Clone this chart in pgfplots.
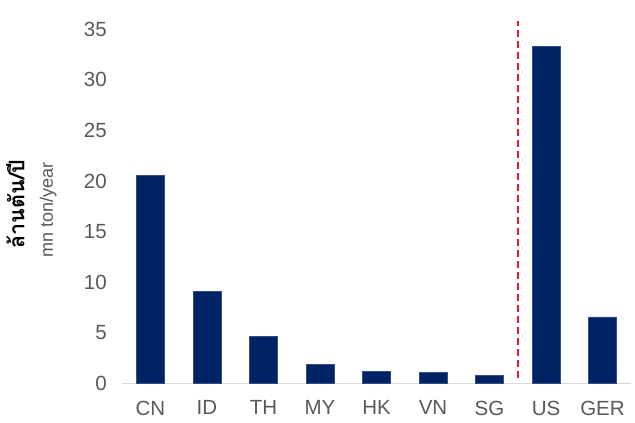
\documentclass[border=0pt]{standalone}
\usepackage{pgfplots}
\pgfplotsset{compat=1.18}
\usepackage{fontspec}
\setmainfont{Liberation Sans}
\newfontfamily\thaifont[Script=Thai]{Loma}
\definecolor{barblue}{HTML}{002366}
\definecolor{txtgray}{HTML}{595959}
\definecolor{axgray}{HTML}{D9D9D9}
\definecolor{dashred}{HTML}{E31B2C}
\begin{document}
\begin{tikzpicture}
\path[use as bounding box] (-122.25pt,-39.7pt) rectangle ++(635pt,423pt);
\begin{axis}[
  scale only axis,
  width=508.5pt, height=354pt,
  xmin=-0.5, xmax=8.5,
  ymin=0, ymax=35,
  ytick={0,5,10,15,20,25,30,35},
  xtick={0,1,2,3,4,5,6,7,8},
  xticklabels={CN,ID,TH,MY,HK,VN,SG,US,GER},
  axis x line*=bottom,
  axis y line*=left,
  x axis line style={draw=axgray, line width=1.5pt, -},
  y axis line style={draw=none},
  major tick length=0pt,
  tick label style={font=\fontsize{20.5}{24}\selectfont, text=txtgray},
  /pgf/number format/assume math mode=true,
  yticklabel style={xshift=-12pt},
  xticklabel style={yshift=-14pt},
  clip=false,
]
\addplot[ybar, bar width=27.6pt, fill=barblue, draw=barblue!80!white, line width=0.4pt]
  coordinates {(0,20.55) (1,9.07) (2,4.65) (3,1.88) (4,1.16) (5,1.09) (6,0.76) (7,33.3) (8,6.56)};
\addplot[dashred, line width=1.8pt, dash pattern=on 7pt off 4pt]
  coordinates {(6.5,0.5) (6.5,35.8)};
\end{axis}
\node[rotate=90, anchor=center, font=\thaifont\bfseries\fontsize{21.5}{24}\selectfont]
  at (-107pt,179pt) {ล้านตัน/ปี};
\node[rotate=90, anchor=center, text=txtgray, font=\fontsize{18}{20}\selectfont]
  at (-74pt,173pt) {mn ton/year};
\end{tikzpicture}
\end{document}
